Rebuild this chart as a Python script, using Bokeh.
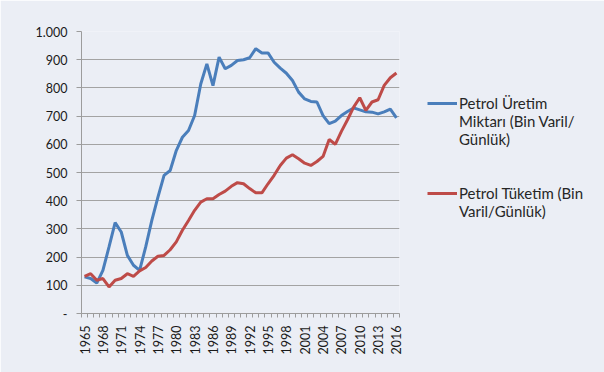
import math
from bokeh.plotting import figure
from bokeh.models import Range1d, FixedTicker, Legend, LegendItem
from bokeh.embed import file_html
from bokeh.resources import INLINE

years = [1965, 1966, 1967, 1968, 1969, 1970, 1971, 1972, 1973, 1974,
         1975, 1976, 1977, 1978, 1979, 1980, 1981, 1982, 1983, 1984,
         1985, 1986, 1987, 1988, 1989, 1990, 1991, 1992, 1993, 1994,
         1995, 1996, 1997, 1998, 1999, 2000, 2001, 2002, 2003, 2004,
         2005, 2006, 2007, 2008, 2009, 2010, 2011, 2012, 2013, 2014,
         2015, 2016]

uretim = [130, 124, 108, 153, 236, 322, 289, 206, 171, 153,
          236, 330, 413, 490, 507, 578, 625, 649, 702, 814,
          885, 808, 909, 868, 880, 897, 900, 907, 939, 924,
          924, 891, 870, 852, 826, 785, 761, 752, 750, 702,
          673, 682, 702, 716, 729, 722, 715, 714, 708, 715,
          725, 694]

tuketim = [132, 141, 118, 124, 94, 118, 124, 141, 132, 151,
           163, 186, 203, 206, 226, 254, 295, 330, 366, 395,
           407, 407, 422, 434, 451, 464, 460, 443, 428, 428,
           460, 490, 525, 551, 563, 549, 533, 525, 539, 557,
           617, 600, 646, 687, 732, 765, 720, 750, 758, 809,
           836, 853]

label_years = [1965, 1968, 1971, 1974, 1977, 1980, 1983, 1986, 1989, 1992,
               1995, 1998, 2001, 2004, 2007, 2010, 2013, 2016]
y_ticks = [0, 100, 200, 300, 400, 500, 600, 700, 800, 900, 1000]
y_labels = ["-", "100", "200", "300", "400", "500", "600", "700", "800", "900", "1.000"]

# legend texts, one list of wrapped lines per series
uretim_name = ["Petrol Üretim", "Miktarı (Bin Varil/", "Günlük)"]
tuketim_name = ["Petrol Tüketim (Bin", "Varil/Günlük)"]

BG = "#EBEEF5"
FONT = "Lato"

p = figure(frame_width=318, frame_height=282, output_backend="svg", toolbar_location=None,
           x_range=Range1d(years[0] - 0.5, years[-1] + 0.5),
           y_range=Range1d(0, 1000),
           min_border_left=81, min_border_top=31, min_border_right=205,
           min_border_bottom=59)
p.background_fill_color = BG
p.border_fill_color = BG
p.outline_line_color = None

# grid
p.xgrid.grid_line_color = None
p.ygrid.grid_line_color = "#A3A3A3"
p.ygrid.grid_line_width = 1

# y axis
p.yaxis.ticker = FixedTicker(ticks=y_ticks)
p.yaxis.major_label_overrides = {t: l for t, l in zip(y_ticks, y_labels)}
p.yaxis.axis_line_color = "#9C9C9C"
p.yaxis.major_tick_line_color = "#9C9C9C"
p.yaxis.major_tick_out = 5
p.yaxis.major_tick_in = 0
p.yaxis.minor_tick_line_color = None
p.yaxis.major_label_standoff = 9
p.yaxis.major_label_text_font = FONT
p.yaxis.major_label_text_font_size = "12.5px"
p.yaxis.major_label_text_color = "#1A1A1A"

# x axis
minor = [y - 0.5 for y in years] + [years[-1] + 0.5]
p.xaxis.ticker = FixedTicker(ticks=label_years, minor_ticks=minor)
p.xaxis.major_label_overrides = {y: str(y) for y in label_years}
p.xaxis.axis_line_color = "#9C9C9C"
p.xaxis.major_tick_line_color = None
p.xaxis.minor_tick_line_color = "#9C9C9C"
p.xaxis.minor_tick_out = 4
p.xaxis.minor_tick_in = 0
p.xaxis.major_label_orientation = math.pi / 2
p.xaxis.major_label_standoff = 6
p.xaxis.major_label_text_font = FONT
p.xaxis.major_label_text_font_size = "12.5px"
p.xaxis.major_label_text_color = "#1A1A1A"

r1 = p.line(years, uretim, line_color="#4A7EBB", line_width=3)
r2 = p.line(years, tuketim, line_color="#BE4B48", line_width=3)
# invisible renderer used for the wrapped continuation lines of the legend
blank = p.line([], [], line_alpha=0)

items = [LegendItem(label=uretim_name[0], renderers=[r1])]
items += [LegendItem(label=t, renderers=[blank]) for t in uretim_name[1:]]
items += [LegendItem(label="\u00a0", renderers=[blank]) for _ in range(2)]
items += [LegendItem(label=tuketim_name[0], renderers=[r2])]
items += [LegendItem(label=t, renderers=[blank]) for t in tuketim_name[1:]]

legend = Legend(items=items, location=(28, 93))
legend.background_fill_alpha = 0
legend.border_line_alpha = 0
legend.padding = 0
legend.margin = 0
legend.spacing = 0
legend.glyph_width = 30
legend.glyph_height = 18
legend.label_height = 18
legend.label_standoff = 2
legend.label_text_font = FONT
legend.label_text_font_size = "15px"
legend.label_text_color = "#262626"
legend.label_text_line_height = 1.2
p.add_layout(legend, "right")

open("out.html", "w").write(file_html(p, INLINE))
